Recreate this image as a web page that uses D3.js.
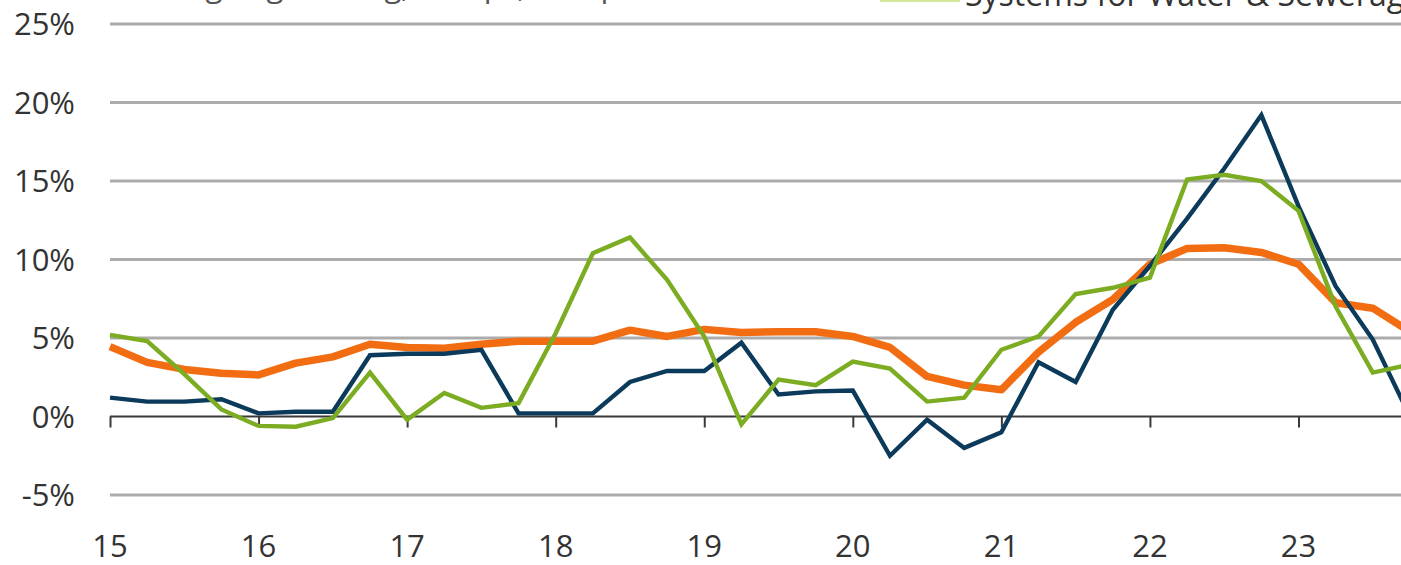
<!DOCTYPE html>
<html>
<head>
<meta charset="utf-8">
<script src="https://cdn.jsdelivr.net/npm/d3@7"></script>
<style>
  html, body { margin: 0; padding: 0; background: #fff; overflow: hidden; }
  svg { display: block; }
  text { font-family: "Open Sans", sans-serif; fill: #333; }
</style>
</head>
<body>
<svg id="chart" width="1401" height="565"></svg>
<script>
// ---- data (quarterly, 2015 Q1 .. 2023 Q4) ----
const quarters = d3.range(36).map(i => 15 + i / 4);
const seriesBlue = [1.2, 0.95, 0.95, 1.1, 0.2, 0.3, 0.3, 3.9, 4.0, 4.0, 4.25, 0.2,
  0.2, 0.2, 2.2, 2.9, 2.9, 4.7, 1.4, 1.6, 1.65, -2.5, -0.2, -2.0,
  -1.0, 3.45, 2.2, 6.8, 9.6, 12.6, 15.8, 19.2, 13.4, 8.3, 4.9, 0.0];
const seriesOrange = [4.45, 3.45, 3.0, 2.75, 2.65, 3.4, 3.8, 4.6, 4.4, 4.35, 4.6, 4.8,
  4.8, 4.8, 5.5, 5.1, 5.55, 5.35, 5.4, 5.4, 5.1, 4.4, 2.55, 2.0,
  1.7, 4.1, 6.0, 7.45, 9.7, 10.7, 10.75, 10.45, 9.7, 7.25, 6.9, 5.4];
const seriesGreen = [5.2, 4.8, 2.7, 0.45, -0.6, -0.65, -0.1, 2.8, -0.2, 1.5, 0.55, 0.85,
  5.3, 10.4, 11.4, 8.7, 5.1, -0.5, 2.35, 2.0, 3.5, 3.05, 0.95, 1.2,
  4.25, 5.1, 7.8, 8.2, 8.85, 15.1, 15.4, 15.0, 13.1, 7.0, 2.8, 3.3];
const yTicks = [-5, 0, 5, 10, 15, 20, 25];
const xTicks = [15, 16, 17, 18, 19, 20, 21, 22, 23];
const legendLabels = ["Heating Engineering, Pumps, Compressors", "Systems for Water & Sewerage"];

// ---- layout ----
const svg = d3.select("#chart");
const x = d3.scaleLinear().domain([15, 23]).range([110, 1298.5]);
const y = d3.scaleLinear().domain([-5, 25]).range([495, 24]);

// gridlines
const grid = svg.append("g");
grid.selectAll("line").data(yTicks.filter(v => v !== 0)).join("line")
  .attr("x1", x(15)).attr("x2", 1401)
  .attr("y1", d => y(d)).attr("y2", d => y(d))
  .attr("stroke", "#acacac").attr("stroke-width", 2.8);

// y labels
svg.append("g").selectAll("text").data(yTicks).join("text")
  .attr("x", 75).attr("y", d => y(d))
  .attr("dy", "0.36em")
  .attr("text-anchor", "end")
  .attr("font-size", 31)
  .text(d => d + "%");

// x axis at 0
const xAxis = d3.axisBottom(x).tickValues(xTicks).tickSize(11).tickSizeOuter(0).tickFormat("");
const ax = svg.append("g").attr("transform", `translate(0,${y(0)})`).call(xAxis);
ax.select(".domain").remove();
ax.selectAll(".tick line").attr("stroke", "#3a3a3a").attr("stroke-width", 2);
svg.append("line")
  .attr("x1", x(15)).attr("x2", 1401)
  .attr("y1", y(0)).attr("y2", y(0))
  .attr("stroke", "#3a3a3a").attr("stroke-width", 2);

// x labels
svg.append("g").selectAll("text").data(xTicks).join("text")
  .attr("x", d => x(d)).attr("y", 557)
  .attr("text-anchor", "middle")
  .attr("font-size", 31)
  .text(d => d);

// lines
const line = vals => d3.line().x((d, i) => x(quarters[i])).y(d => y(d))(vals);
svg.append("path").attr("d", line(seriesOrange))
  .attr("fill", "none").attr("stroke", "#f26d12").attr("stroke-width", 7.5)
  .attr("stroke-linejoin", "round");
svg.append("path").attr("d", line(seriesBlue))
  .attr("fill", "none").attr("stroke", "#0c3a5b").attr("stroke-width", 4.4)
  .attr("stroke-linejoin", "miter");
svg.append("path").attr("d", line(seriesGreen))
  .attr("fill", "none").attr("stroke", "#7bac22").attr("stroke-width", 4.4)
  .attr("stroke-linejoin", "miter");

// legend (cropped at the top, as in the reference)
svg.append("text").attr("x", 110).attr("y", -3).attr("font-size", 31)
  .style("fill", "#555").text(legendLabels[0]);
svg.append("rect").attr("x", 880).attr("y", -6).attr("width", 80).attr("height", 8)
  .attr("fill", "#d6e89a");
svg.append("text").attr("x", 965).attr("y", 6).attr("font-size", 32)
  .text(legendLabels[1]);
</script>
</body>
</html>
